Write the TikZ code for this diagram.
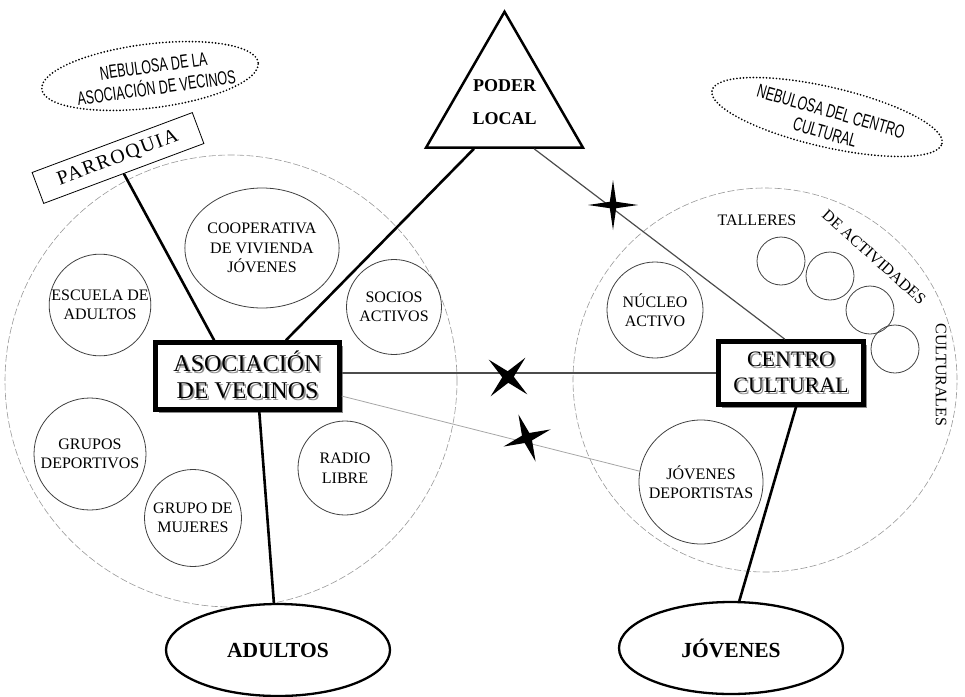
\documentclass[tikz,border=0pt]{standalone}
\usepackage{fontspec}
\setmainfont{Liberation Serif}
\newfontfamily\nebfont[FakeStretch=0.66]{Liberation Sans}
\newfontfamily\parrfont[LetterSpace=8]{Liberation Serif}
\usetikzlibrary{shapes.geometric,calc,shadows}
\newcommand\shtxt[1]{\makebox[0pt][l]{\hspace{1.8pt}\raisebox{-1.8pt}{\textcolor{black!45}{#1}}}#1}
\begin{document}
\begin{tikzpicture}[x=1pt,y=-1pt,
  bigring/.style={circle, draw=black!40, line width=0.6pt, dash pattern=on 7pt off 2.5pt, inner sep=0pt},
  item/.style={circle, draw=black!75, line width=0.8pt, inner sep=0pt, align=center, font=\fontsize{16}{19.5}\selectfont},
  small/.style={circle, draw=black!75, line width=0.8pt, inner sep=0pt, minimum size=48},
  nebula/.style={ellipse, draw, line width=1.9pt, dash pattern=on 0pt off 3.3pt, line cap=round, inner sep=0pt},
  nebtext/.style={align=center, font=\nebfont\fontsize{19}{22}\selectfont, inner sep=0pt},
  mainbox/.style={draw, line width=4.5pt, fill=white, inner sep=0pt, align=center,
     font=\fontsize{24}{27}\selectfont, drop shadow={shadow xshift=3pt, shadow yshift=-3pt, fill=black!45, opacity=1}},
  group/.style={ellipse, draw, line width=2.3pt, inner sep=0pt, minimum width=224, minimum height=92, font=\bfseries\fontsize{21.5}{21.5}\selectfont},
  thickline/.style={line width=2.6pt},
  midline/.style={draw=black!70, line width=1.2pt},
  lightline/.style={draw=black!35, line width=0.8pt},
  fourstar/.style={star, star points=4, fill=black, inner sep=0pt},
  lbl/.style={font=\fontsize{16}{16}\selectfont, inner sep=0pt}
]
\useasboundingbox (0,0) rectangle (965,696);

% dashed rings
\node[bigring, minimum size=452] (ringL) at (231,381) {};
\node[bigring, minimum size=384] (ringR) at (765,380) {};

% nebulae
\node[nebula, minimum width=218, minimum height=64, rotate=7] (nebL) at (150,76) {};
\node[nebtext, rotate=8] (nebLt) at (155,77) {NEBULOSA DE LA\\ASOCIACIÓN DE VECINOS};
\node[nebula, minimum width=236, minimum height=60, rotate=-13] (nebR) at (827,117) {};
\node[nebtext, rotate=-16] (nebRt) at (828,122) {NEBULOSA DEL CENTRO\\CULTURAL};

% parroquia
\node[draw, line width=0.8pt, minimum width=171, minimum height=33, rotate=20.5, inner sep=0pt,
      font=\parrfont\fontsize{20}{20}\selectfont] (parr) at (118,158) {PARROQUIA};

% poder local
\node[regular polygon, regular polygon sides=3, minimum size=179, draw, line width=2.5pt, inner sep=0pt,
      align=center, font=\bfseries\fontsize{18}{33}\selectfont] (poder) at (504.5,102.3) {PODER\\LOCAL};

% left circles
\node[item, ellipse, minimum width=138, minimum height=120] (coop) at (262,248) {COOPERATIVA\\DE VIVIENDA\\JÓVENES};
\node[item, minimum size=90] (escuela) at (100,305) {ESCUELA DE\\ADULTOS};
\node[item, minimum size=95] (socios) at (394,307) {SOCIOS\\ACTIVOS};
\node[item, minimum size=112] (grupos) at (90,454) {GRUPOS\\DEPORTIVOS};
\node[item, minimum size=97] (mujeres) at (193,518) {GRUPO DE\\MUJERES};
\node[item, minimum size=94] (radio) at (345,468) {RADIO\\LIBRE};

% right circles
\node[item, minimum size=96] (nucleo) at (655,310) {NÚCLEO\\ACTIVO};
\node[item, minimum size=124] (jd) at (701,482) {JÓVENES\\DEPORTISTAS};
\node[small] (t1) at (781,261) {};
\node[small] (t2) at (830,276) {};
\node[small] (t3) at (870,310) {};
\node[small] (t4) at (895,349) {};
\node[lbl] (talleres) at (757,220) {TALLERES};
\node[lbl, rotate=-42] (activ) at (874,257) {DE ACTIVIDADES};
\node[lbl, rotate=-90] (cult) at (941,375) {CULTURALES};

% main boxes
\node[mainbox, minimum width=184, minimum height=67] (aso) at (247.5,376) {\shtxt{ASOCIACIÓN}\\\shtxt{DE VECINOS}};
\node[mainbox, minimum width=145, minimum height=63, font=\fontsize{22}{26}\selectfont] (centro) at (791,373) {\shtxt{CENTRO}\\\shtxt{CULTURAL}};

% groups
\node[group] (adultos) at (278,650) {ADULTOS};
\node[group] (jovenes) at (731,648) {JÓVENES};

% connectors
\draw[thickline] (parr.south) -- ($(aso.north west)!0.323!(aso.north east)$);
\draw[thickline] ($(poder.corner 2)!0.31!(poder.corner 3)$) -- ($(aso.north west)!0.704!(aso.north east)$);
\draw[midline] ($(poder.corner 2)!0.684!(poder.corner 3)$) -- ($(centro.north west)!0.459!(centro.north east)$);
\draw[midline] (aso.east |- centro.west) -- (centro.west);
\draw[lightline] (aso.-12) -- (jd.170);
\draw[thickline] ($(aso.south west)!0.5625!(aso.south east)$) -- (adultos.95);
\draw[thickline] ($(centro.south west)!0.534!(centro.south east)$) -- (jovenes.80);

% stars
\node[fourstar, star point ratio=5.5, minimum size=50] (st1) at (613,205) {};
\node[fourstar, star point ratio=4.5, minimum size=52, rotate=-42] (st2) at (508,377) {};
\node[fourstar, star point ratio=4.5, minimum size=50, rotate=20] (st3) at (527,438) {};
\end{tikzpicture}
\end{document}
